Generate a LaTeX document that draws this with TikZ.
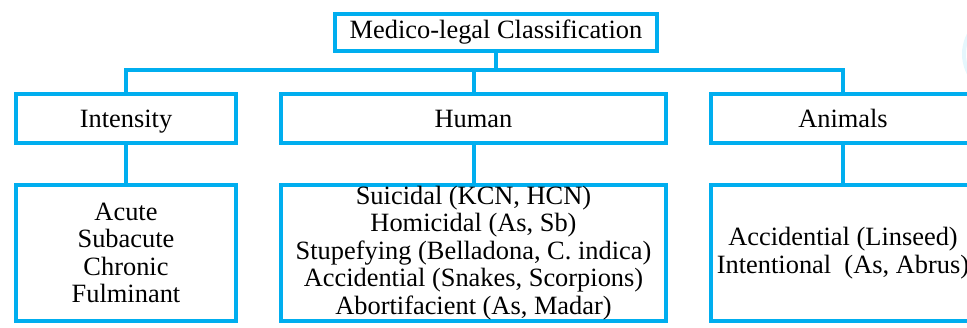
\documentclass[tikz,border=0pt]{standalone}
\usepackage{fontspec}
\setmainfont{Liberation Serif}
\usepackage{xcolor}
\usepackage{tikz}
\usetikzlibrary{positioning}

\definecolor{boxblue}{RGB}{0,174,239}

\begin{document}
\begin{tikzpicture}[
    node distance=21pt and 22.5pt,
    box/.style={rectangle, draw=boxblue, line width=2pt, outer sep=0pt,
                align=center, inner sep=0pt,
                font=\fontsize{13.2}{13.8}\selectfont},
    head/.style={box, text height=9pt, text depth=3pt},
    tier/.style={box, text height=10.5pt, text depth=1.5pt, minimum height=24.5pt},
    link/.style={draw=boxblue, line width=2pt}
]
\useasboundingbox (0,0) rectangle (483.5pt,-163.5pt);
\clip (0,0) rectangle (483.5pt,-163.5pt);

% top of the tree
\node[head, minimum width=161pt, minimum height=18.5pt] (cls) at (248pt,-16.25pt)
    {Medico-legal Classification};

% second row
\node[tier, minimum width=110pt] (intensity) at (63pt,-59.25pt) {Intensity};
\node[tier, minimum width=192.5pt, right=of intensity] (human) {Human};
\node[tier, minimum width=132pt, right=of human] (animals) {Animals};

% lists under each heading
\node[box, minimum width=110pt, minimum height=68pt, below=of intensity] (grades)
    {Acute\\Subacute\\Chronic\\Fulminant};
\node[box, minimum width=192.5pt, minimum height=68pt, below=of human] (humanuse)
    {Suicidal (KCN, HCN)\\Homicidal (As, Sb)\\Stupefying (Belladona, C. indica)\\
     Accidential (Snakes, Scorpions)\\Abortifacient (As, Madar)};
\node[box, minimum width=132pt, minimum height=68pt, below=of animals] (animaluse)
    {Accidential (Linseed)\\Intentional\ \ (As, Abrus)};

% connectors
\coordinate (bus) at (0,-35pt);
\draw[link] (cls.south) -- (cls.south |- bus);
\draw[link] (intensity.north) -- (intensity.north |- bus) -- (animals.north |- bus) -- (animals.north);
\draw[link] (human.north) -- (human.north |- bus);
\draw[link] (intensity) -- (grades);
\draw[link] (human) -- (humanuse);
\draw[link] (animals) -- (animaluse);

% pale edge at the right border
\draw[boxblue!10, line width=2pt] (503pt,-27pt) circle (21pt);
\end{tikzpicture}
\end{document}
